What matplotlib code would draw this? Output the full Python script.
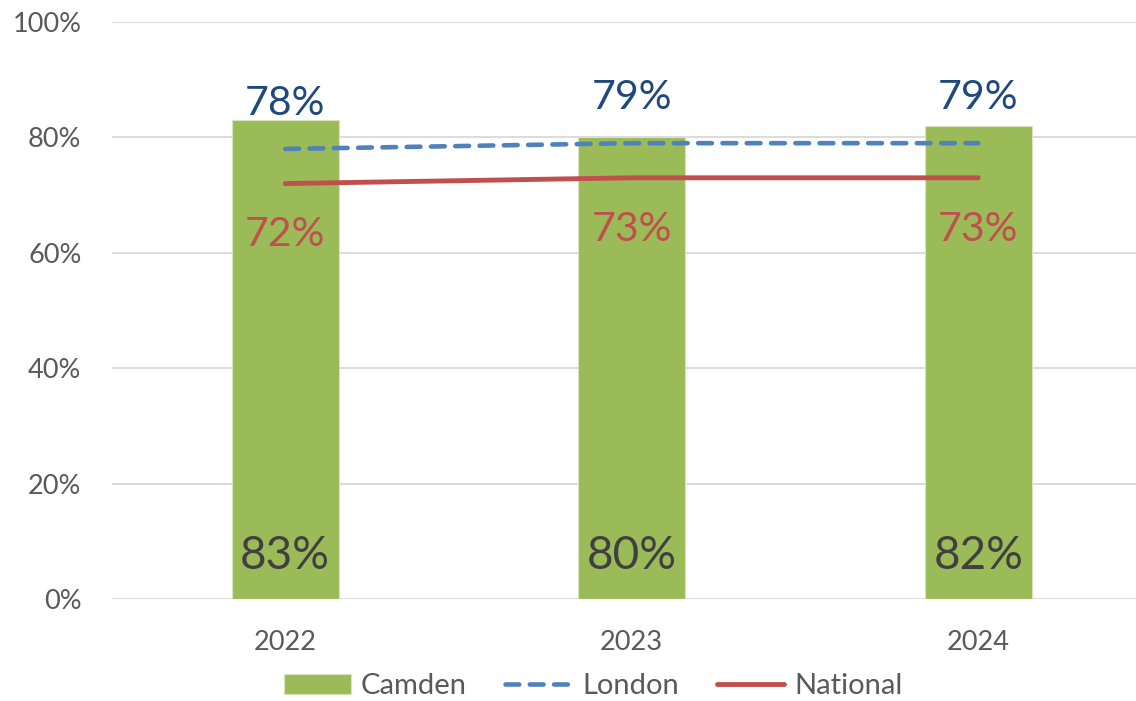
import numpy as np
import matplotlib.pyplot as plt

# Creating the data
years = ['2022', '2023', '2024']
camden = [83, 80, 82]
london = [78, 79, 79]
national = [72, 73, 73]

plt.rcParams['font.family'] = ['Lato', 'DejaVu Sans']

x = np.arange(len(years))

## Using the Object Oriented Method
fig = plt.figure(figsize=(11.36, 7.01), dpi=100)
axes = fig.add_axes([0.0986, 0.1455, 0.915, 0.8231])

# Bars and lines
bars = axes.bar(x, camden, width=0.31, color='#9bbb59', edgecolor='#d7e4bd', linewidth=0.8,
                label='Camden', zorder=2)
line1, = axes.plot(x, london, color='#4f81bd', linewidth=3.3, linestyle=(0, (3.0, 2.3)),
                   dash_capstyle='round', label='London', zorder=3)
line2, = axes.plot(x, national, color='#c0504d', linewidth=3.5, solid_capstyle='round',
                   label='National', zorder=3)

# Data labels
for i in range(len(years)):
    axes.annotate(f'{camden[i]}%', (x[i], 0), xytext=(0, 31), textcoords='offset points',
                  ha='center', va='center', fontsize=33, color='#404040', zorder=4)
    axes.annotate(f'{london[i]}%', (x[i], london[i]), xytext=(0, 33), textcoords='offset points',
                  ha='center', va='center', fontsize=29.5, color='#1f497d', zorder=4)
    axes.annotate(f'{national[i]}%', (x[i], national[i]), xytext=(0, -37), textcoords='offset points',
                  ha='center', va='center', fontsize=29.5, color='#c0504d', zorder=4)

# Axes settings
axes.set_xlim(-0.5, 2.5)
axes.set_ylim(0, 100)
axes.set_xticks(x)
axes.set_xticklabels(years)
axes.set_yticks(np.arange(0, 101, 20))
axes.set_yticklabels([f'{v}%' for v in range(0, 101, 20)])
axes.tick_params(axis='both', length=0, labelsize=19.5, labelcolor='#595959')
axes.tick_params(axis='x', pad=22)
axes.tick_params(axis='y', pad=22)
axes.grid(axis='y', color='#d9d9d9', linewidth=1.3, zorder=0)
axes.set_axisbelow(True)
for side in ['top', 'right', 'left', 'bottom']:
    axes.spines[side].set_visible(False)

# Legend
fig.legend([bars, line1, line2], ['Camden', 'London', 'National'], loc='center',
           bbox_to_anchor=(0.522, 0.021), ncol=3, frameon=False,
           fontsize=21, labelcolor='#595959', handlelength=2.3, handletextpad=0.35,
           columnspacing=1.3, borderaxespad=0)

fig.savefig('out.png')
